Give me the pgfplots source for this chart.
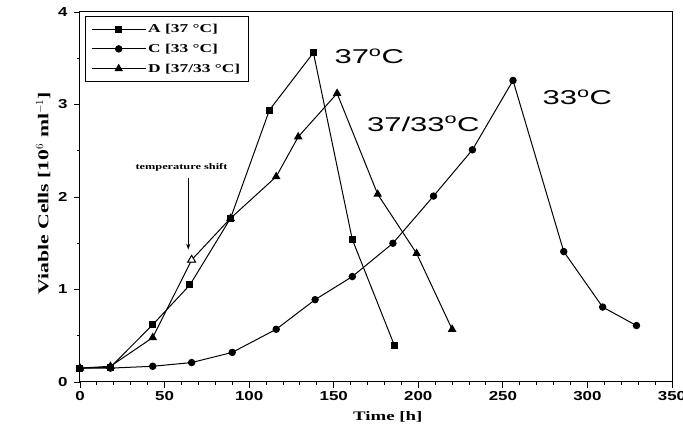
\documentclass[border=0pt]{standalone}
\usepackage{fontspec}
\setmainfont{Liberation Serif}
\newfontfamily\labfont[FakeStretch=1.45]{Liberation Serif}
\newfontfamily\tickfont[FakeStretch=1.3]{Liberation Sans}
\newfontfamily\annfont[FakeStretch=1.55]{Liberation Sans}
\usepackage{pgfplots}
\usepackage{pgfplotstable}
\pgfplotsset{compat=1.18}
\usetikzlibrary{arrows.meta}

% A: 37 C
\pgfplotstableread{
t v
0 0.15
18 0.16
43 0.62
65 1.05
89 1.77
112 2.94
138 3.56
161 1.54
186 0.39
}\dataA
% C: 33 C
\pgfplotstableread{
t v
0 0.15
18 0.15
43 0.17
66 0.21
90 0.32
116 0.57
139 0.89
161 1.14
185 1.50
209 2.01
232 2.51
256 3.26
286 1.41
309 0.81
329 0.61
}\dataC
% D: 37/33 C
\pgfplotstableread{
t v
0 0.15
18 0.17
43 0.48
66 1.32
89 1.77
116 2.22
129 2.65
152 3.12
176 2.03
199 1.39
220 0.57
}\dataD

\begin{document}
\begin{tikzpicture}
\begin{axis}[
    name=ax,
    scale only axis,
    width=592pt, height=370pt,
    xmin=0, xmax=350, ymin=0, ymax=4,
    xtick={0,50,...,350}, ytick={0,1,2,3,4},
    minor x tick num=4, minor y tick num=1,
    tick align=outside, tick pos=left,
    major tick length=6pt, minor tick length=3pt,
    axis line style={line width=1pt},
    every tick/.style={line width=0.9pt},
    /pgf/number format/assume math mode=true,
    tick label style={font=\tickfont\bfseries\fontsize{13}{13}\selectfont},
    yticklabel style={xshift=-3pt},
    xlabel={Time [h]},
    ylabel={Viable Cells [10$^{6}$ ml$^{-1}$]},
    label style={font=\labfont\bfseries\fontsize{13}{13}\selectfont},
    xlabel style={at={(axis description cs:0.52,0)}, anchor=north, yshift=-26pt},
    ylabel style={at={(axis description cs:0,0.51)}, yshift=26pt, font=\labfont\bfseries\fontsize{15}{15}\selectfont},
    legend style={at={(0.008,0.99)}, anchor=north west, draw=black, line width=0.9pt,
        font=\labfont\bfseries\fontsize{12}{12}\selectfont, inner xsep=6pt, inner ysep=6pt,
        row sep=6pt},
    legend cell align=left,
    legend image code/.code={
        \draw[#1, mark repeat=2, mark phase=2] plot coordinates {(0cm,0cm) (0.95cm,0cm) (1.9cm,0cm)};
    },
    clip=false,
]
\addplot[black, line width=1pt, mark=square*, mark size=3pt] table[x=t,y=v] {\dataA};
\addplot[black, line width=1pt, mark=*, mark size=3.2pt] table[x=t,y=v] {\dataC};
\addplot[black, line width=1pt, mark=triangle*, mark size=4pt] table[x=t,y=v] {\dataD};
\addplot[forget plot, black, line width=1pt, only marks, mark=triangle*, mark size=4.5pt,
    mark options={fill=white}] coordinates {(66,1.32)};
\legend{A [37 °C], C [33 °C], D [37/33 °C]}

\node[font=\annfont\fontsize{20}{20}\selectfont] at (axis cs:171,3.52) {37\textsuperscript{o}C};
\node[font=\annfont\fontsize{20}{20}\selectfont] at (axis cs:203,2.79) {37/33\textsuperscript{o}C};
\node[font=\annfont\fontsize{20}{20}\selectfont] at (axis cs:294,3.08) {33\textsuperscript{o}C};
\node[font=\labfont\bfseries\fontsize{8.5}{8.5}\selectfont] at (axis cs:60,2.32) {temperature shift};
\draw[-{Stealth[length=6pt,width=4pt]}, line width=1pt] (axis cs:64,2.2) -- (axis cs:64,1.43);
\end{axis}
\pgfresetboundingbox
\path[use as bounding box] ([xshift=-80pt,yshift=-59pt]ax.south west) rectangle ([xshift=11pt,yshift=12pt]ax.north east);
\end{tikzpicture}
\end{document}
